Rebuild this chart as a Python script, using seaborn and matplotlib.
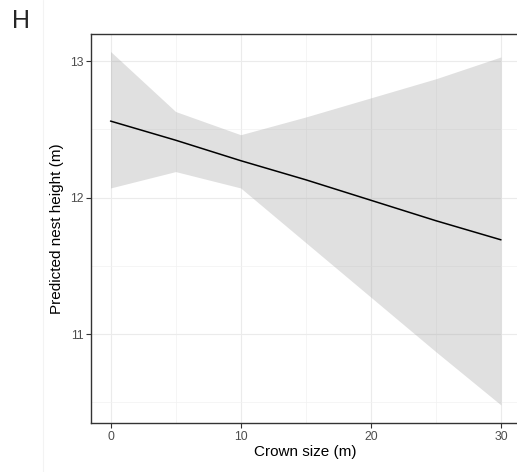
import pandas as pd
import seaborn as sns
import matplotlib.pyplot as plt
from matplotlib.lines import Line2D
from matplotlib.ticker import MultipleLocator

########## Data

crown_size = [0, 5, 10, 15, 20, 25, 30]
predicted  = [12.56, 12.42, 12.27, 12.13, 11.98, 11.83, 11.69]
ci_low     = [12.07, 12.19, 12.07, 11.67, 11.27, 10.87, 10.48]
ci_high    = [13.07, 12.63, 12.46, 12.59, 12.73, 12.87, 13.03]

df = pd.DataFrame({"crown": crown_size, "pred": predicted,
                   "low": ci_low, "high": ci_high})

########## Style

sns.set_theme(style = "white")
plt.rcParams['font.family'] = ['Liberation Sans', 'DejaVu Sans']

fig = plt.figure(figsize = (5.17, 4.72), dpi = 100)
ax  = fig.add_axes([91 / 517, 1 - 423 / 472, 429.5 / 517, 389 / 472])

# ribbon + fitted line
ax.fill_between(df["crown"], df["low"], df["high"], color = "#999999",
                alpha = 0.3, linewidth = 0, zorder = 2)
sns.lineplot(data = df, x = "crown", y = "pred", color = "black",
             linewidth = 1.1, ax = ax, zorder = 3)

ax.set_xlim(-1.5, 31.5)
ax.set_ylim(10.348, 13.198)

ax.xaxis.set_major_locator(MultipleLocator(10))
ax.xaxis.set_minor_locator(MultipleLocator(5))
ax.yaxis.set_major_locator(MultipleLocator(1))
ax.yaxis.set_minor_locator(MultipleLocator(0.5))

ax.grid(which = "major", color = "#EBEBEB", linewidth = 0.8, zorder = 0)
ax.grid(which = "minor", color = "#F2F2F2", linewidth = 0.5, zorder = 0)
ax.set_axisbelow(True)

for sp in ax.spines.values():
    sp.set_color("#333333")
    sp.set_linewidth(1.0)

ax.tick_params(which = "major", length = 3.5, width = 0.8, color = "#333333",
               labelcolor = "#4D4D4D", labelsize = 8.8, pad = 2,
               bottom = True, left = True)
ax.tick_params(which = "minor", length = 0)

ax.set_xlabel("Crown size (m)", fontsize = 11, color = "black", labelpad = 2)
ax.set_ylabel("Predicted nest height (m)", fontsize = 11, color = "black", labelpad = 4)

# panel tag and faint line from neighbouring panel
fig.text(12 / 517, 1 - 28 / 472, "H", fontsize = 18, ha = "left", va = "baseline")
fig.add_artist(Line2D([43 / 517, 43 / 517], [0, 1], color = "#F3F3F3",
                      linewidth = 0.8, transform = fig.transFigure))

fig.savefig("out.png", dpi = 100)
